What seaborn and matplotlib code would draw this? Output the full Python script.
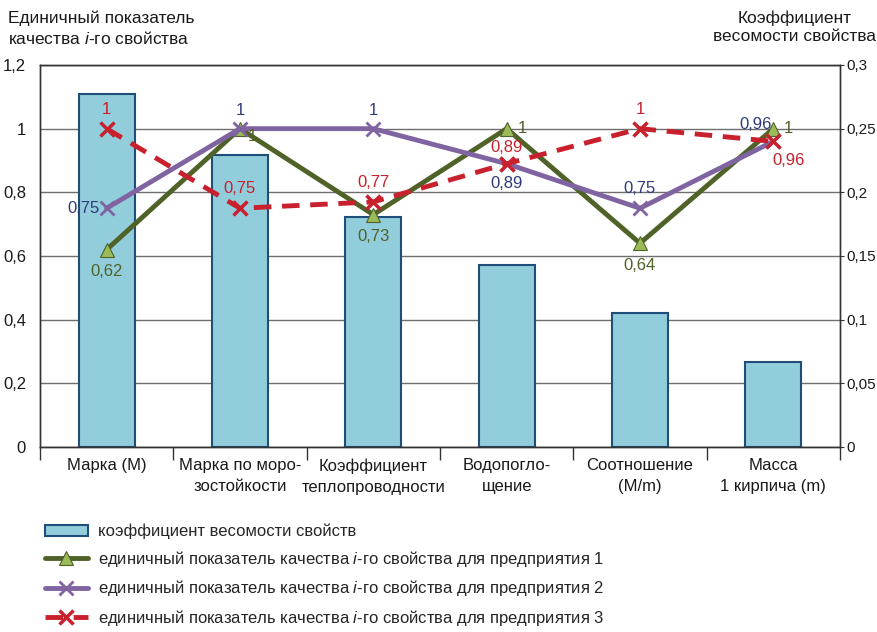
import numpy as np
import pandas as pd
import seaborn as sns
import matplotlib.pyplot as plt
from matplotlib.ticker import FuncFormatter, FixedLocator

# Data
categories = ['Марка (М)', 'Марка по моро-\nзостойкости', 'Коэффициент\nтеплопроводности',
              'Водопогло-\nщение', 'Соотношение\n(М/m)', 'Масса\n1 кирпича (m)']
weights = [0.277, 0.229, 0.181, 0.143, 0.105, 0.067]
firm1 = [0.62, 1, 0.73, 1, 0.64, 1]
firm2 = [0.75, 1, 1, 0.89, 0.75, 0.96]
firm3 = [1, 0.75, 0.77, 0.89, 1, 0.96]

lbl_bar = 'коэффициент весомости свойств'
lbl_line = 'единичный показатель качества $\\mathit{i}$-го свойства для предприятия '

sns.set_style('white')
FONT = ['Liberation Sans Narrow', 'Liberation Sans', 'DejaVu Sans']
plt.rcParams['font.family'] = FONT
plt.rcParams['mathtext.fontset'] = 'custom'
plt.rcParams['mathtext.rm'] = 'Liberation Sans'
plt.rcParams['mathtext.it'] = 'Liberation Sans:italic'
plt.rcParams['font.size'] = 11.5

c_bar = '#92CDDC'
c_edge = '#1F4E79'
c_g = '#4F6228'
c_gm = '#9BBB59'
c_p = '#8064A2'
c_r = '#C8202C'
c_pl = '#2E3A7C'
c_txt = '#1A1A1A'

fig = plt.figure(figsize=(8.78, 6.32), dpi=100)
ax_b = fig.add_axes([40 / 878, 1 - 447 / 632, 800 / 878, 382 / 632])
ax_l = ax_b.twinx()

x = np.arange(len(categories))
df = pd.DataFrame({'cat': x, 'w': weights, 'f1': firm1, 'f2': firm2, 'f3': firm3})

# bars (right scale)
sns.barplot(data=df, x='cat', y='w', ax=ax_b, color=c_bar, width=0.42,
            edgecolor=c_edge, linewidth=1.5, saturation=1, label=lbl_bar, zorder=2)
ax_b.set_ylim(0, 0.3)
ax_b.set_xlim(-0.5, len(categories) - 0.5)
ax_b.yaxis.set_major_locator(FixedLocator(np.arange(0, 0.301, 0.05)))
ax_b.yaxis.tick_right()
ax_b.yaxis.set_major_formatter(FuncFormatter(lambda v, p: ('%g' % round(v, 2)).replace('.', ',')))
ax_b.grid(axis='y', color='#6E6E6E', linewidth=1, zorder=0)
ax_b.set_axisbelow(True)
ax_b.set_xlabel('')
ax_b.set_ylabel('')

# lines (left scale)
sns.lineplot(data=df, x='cat', y='f1', ax=ax_l, color=c_g, linewidth=3.5, marker='^',
             markersize=10, markerfacecolor=c_gm, markeredgecolor=c_g, markeredgewidth=0.8,
             label=lbl_line + '1', zorder=3)
sns.lineplot(data=df, x='cat', y='f2', ax=ax_l, color=c_p, linewidth=3.5, marker='x',
             markersize=10, markeredgewidth=2, markeredgecolor=c_p,
             label=lbl_line + '2', zorder=4)
sns.lineplot(data=df, x='cat', y='f3', ax=ax_l, color=c_r, linewidth=3.5, marker='x',
             markersize=10, markeredgewidth=2.5, markeredgecolor=c_r, dashes=(3.6, 2.2),
             label=lbl_line + '3', zorder=5)
ax_l.set_ylim(0, 1.2)
ax_l.yaxis.tick_left()
ax_l.yaxis.set_major_locator(FixedLocator(np.arange(0, 1.201, 0.2)))
ax_l.yaxis.set_major_formatter(FuncFormatter(lambda v, p: ('%g' % round(v, 1)).replace('.', ',')))
ax_l.set_ylabel('')
ax_l.set_xlabel('')
ax_l.legend_.remove()

def fmt(v):
    return ('%g' % v).replace('.', ',')

# point labels: (dx, dy) offsets in points
off1 = [(0, -16), (9, -6), (0, -16), (11, 0), (0, -16), (11, 0)]
off2 = [(-17, 0), (0, 13), (0, 13), (0, -14), (0, 14), (-13, 12)]
off3 = [(0, 14), (0, 14), (0, 14), (0, 12), (0, 14), (11, -14)]
for xs, ys, offs, col in [(x, firm1, off1, c_g), (x, firm2, off2, c_pl), (x, firm3, off3, c_r)]:
    for xi, yi, (dx, dy) in zip(xs, ys, offs):
        ax_l.annotate(fmt(yi), (xi, yi), xytext=(dx, dy), textcoords='offset points',
                      ha='center', va='center', color=col, fontsize=12, zorder=6)

# x axis: category labels with separators
ax_b.set_xticks(x)
ax_b.set_xticklabels(categories, fontsize=12, color=c_txt, linespacing=1.5)
ax_b.xaxis.set_minor_locator(FixedLocator(np.arange(-0.5, len(categories), 1)))
ax_b.tick_params(axis='x', which='major', length=0, pad=8)
ax_b.tick_params(axis='x', which='minor', length=9, color='#333333', width=1, bottom=True)
ax_b.tick_params(axis='y', length=3, color='#333333', labelsize=11, pad=1.5, right=True, labelcolor=c_txt)
ax_l.tick_params(axis='y', length=0, labelsize=12, pad=10, labelcolor=c_txt)
for a in (ax_b, ax_l):
    for s in a.spines.values():
        s.set_color('#333333')
        s.set_linewidth(1)

# axis titles
fig.text(8 / 878, 1 - 10 / 632, 'Единичный показатель\nкачества $\\mathit{i}$-го свойства',
         ha='left', va='top', fontsize=12.5, color=c_txt, linespacing=1.3)
fig.text(876 / 878, 1 - 10 / 632, 'Коэффициент\nвесомости свойства',
         ha='right', va='top', fontsize=12.5, color=c_txt, linespacing=1.3, multialignment='center')

# legend
h_b, l_b = ax_b.get_legend_handles_labels()
h_l, l_l = ax_l.get_legend_handles_labels()
if ax_b.legend_ is not None:
    ax_b.legend_.remove()
fig.legend(h_b + h_l, l_b + l_l, loc='upper left', bbox_to_anchor=(38 / 878, 1 - 517 / 632),
           frameon=False, fontsize=12, handlelength=2.6, labelspacing=0.58, handletextpad=0.6,
           borderaxespad=0)

fig.savefig('out.png', dpi=100)
